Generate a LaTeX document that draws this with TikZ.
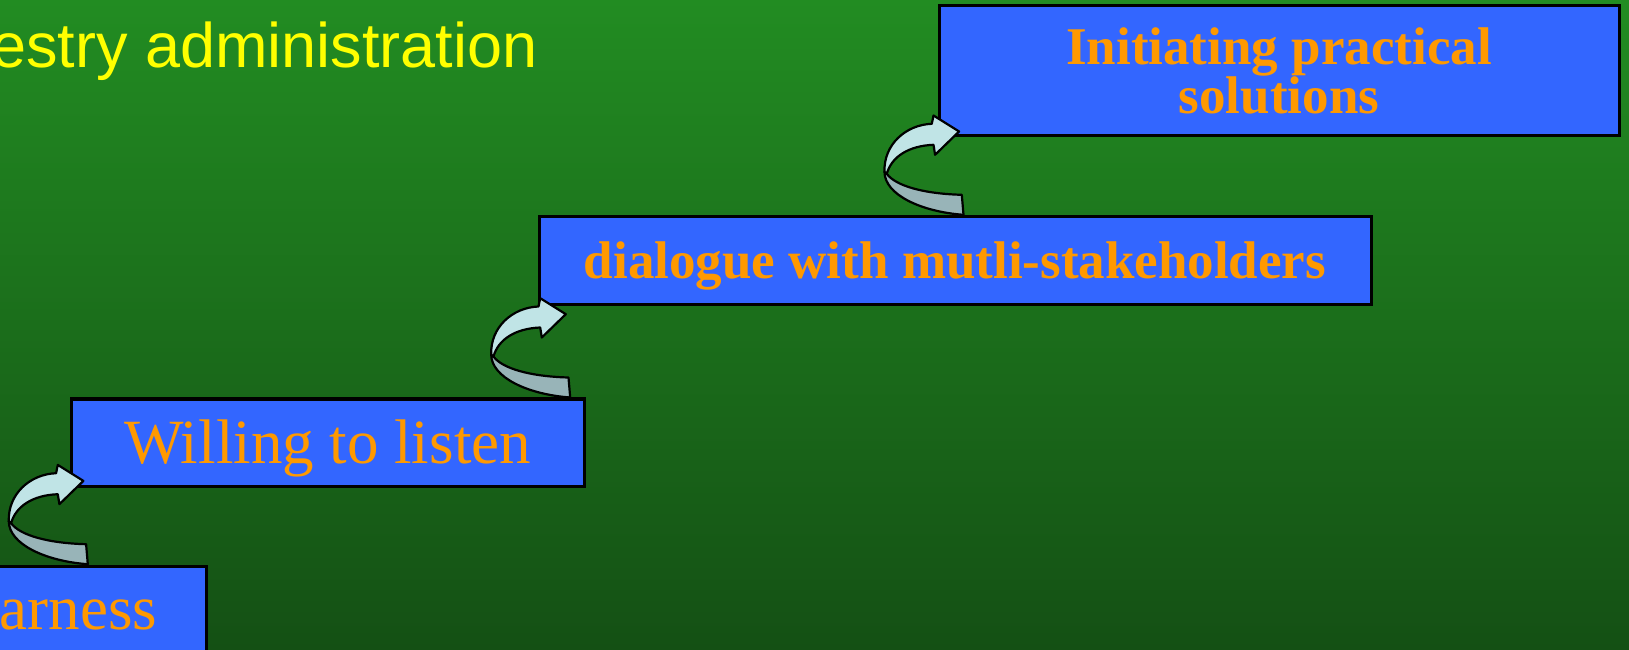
\documentclass[tikz,border=0pt]{standalone}
\usepackage{fontspec}
\setmainfont{Liberation Serif}
\newfontfamily\headfont{Liberation Sans}

\definecolor{boxblue}{RGB}{51,102,255}
\definecolor{txtorange}{RGB}{255,153,0}
\definecolor{headyellow}{RGB}{255,255,0}
\definecolor{bgtop}{RGB}{34,140,34}
\definecolor{bgbottom}{RGB}{20,80,20}
\definecolor{frontface}{RGB}{192,228,230}
\definecolor{backface}{RGB}{152,180,184}

\tikzset{
  stage/.style={draw=black, line width=1.5pt, fill=boxblue, text=txtorange,
    inner sep=0pt, align=center},
  plain/.style={font=\fontsize{31.5}{36}\selectfont, text height=24.6pt, text depth=3.8pt},
  heavy/.style={font=\bfseries\fontsize{26.5}{24.5}\selectfont},
  % curved step arrow, origin = lower right end of its tail
  stair/.pic={
    \filldraw[fill=backface, line width=1.1pt, line join=round]
      (-79,43) .. controls (-79,20) and (-42,3) .. (0,0) -- (-1.7,20)
      .. controls (-40,21) and (-68,29) .. (-76.7,41) -- cycle;
    \filldraw[fill=frontface, line width=1.1pt, line join=round]
      (-79,43) .. controls (-80,70) and (-58,90) .. (-31.7,91) -- (-30,99.3)
      -- (-4.4,83.3) -- (-28.4,60) -- (-30,70)
      .. controls (-55,69) and (-72,58) .. (-76.7,41) -- cycle;
  }
}

\begin{document}
\begin{tikzpicture}[x=0.5pt,y=0.5pt]
\useasboundingbox (0,0) rectangle (1629,649);
\clip (0,0) rectangle (1629,649);
\fill[top color=bgtop, bottom color=bgbottom] (0,0) rectangle (1629,649);

\node[anchor=base east, inner sep=0pt, text=headyellow,
  font=\headfont\fontsize{31.5}{36}\selectfont] (title) at (538,581) {estry administration};

\node[stage, plain, minimum width=127.5pt, minimum height=42.5pt] (aware) at (78.5,40.5) {arness};
\node[stage, plain, minimum width=256.5pt, minimum height=43.5pt] (will) at (327.5,206.5) {Willing to listen};
\node[stage, heavy, text height=20.7pt, text depth=3.2pt,
  minimum width=416pt, minimum height=44pt] (dia) at (955,388) {dialogue with mutli-stakeholders};
\node[stage, heavy, minimum width=340pt, minimum height=65pt] (sol) at (1279,578) {Initiating practical\\solutions};

\path (will.south west) ++(18.3,-76.7) pic {stair};
\path (dia.south west) ++(32.7,-91) pic {stair};
\path (sol.south west) ++(26,-77.3) pic {stair};
\end{tikzpicture}
\end{document}
